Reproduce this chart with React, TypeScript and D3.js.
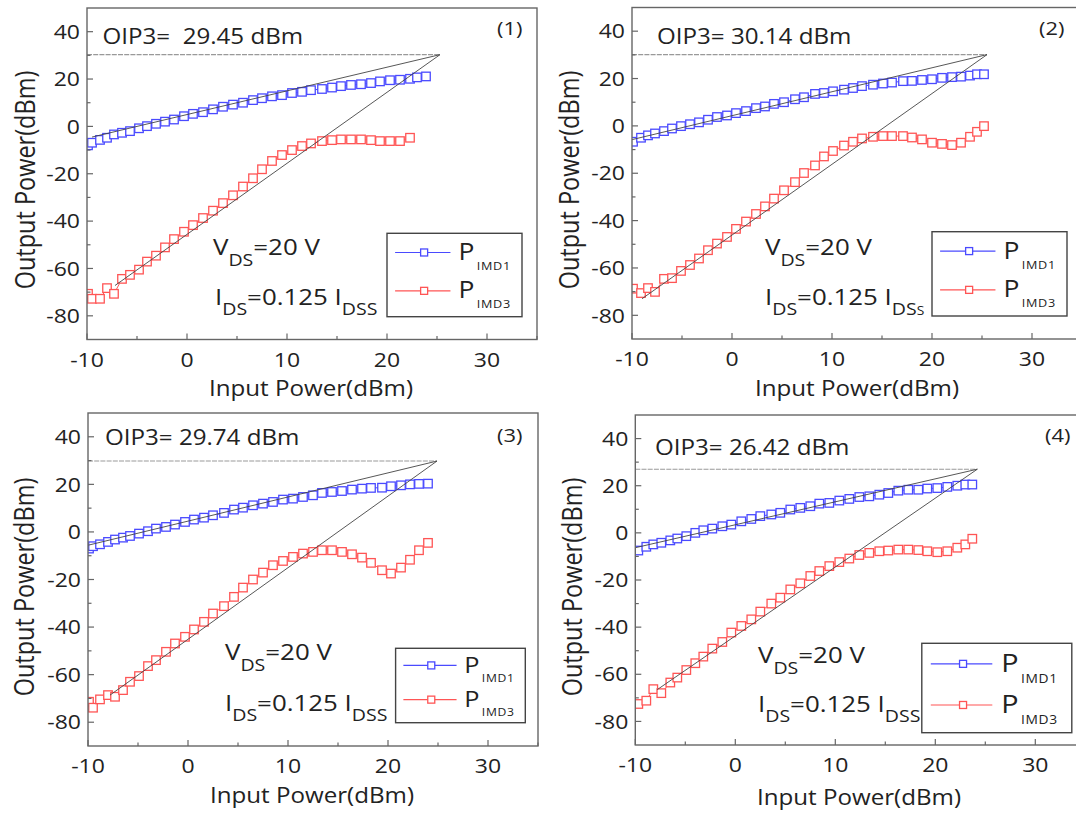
import React from 'react';
import * as d3 from 'd3';

// ---------------- DATA ----------------
const X_DOMAIN: [number, number] = [-10, 35];
const Y_DOMAIN: [number, number] = [-90, 50];
const X_MAJOR = [-10, 0, 10, 20, 30];
const X_MINOR = [-5, 5, 15, 25, 35];
const Y_MAJOR = [-80, -60, -40, -20, 0, 20, 40];
const Y_MINOR = [-70, -50, -30, -10, 10, 30];

const p1Input = [-9.9, -9.5, -8.7, -8.0, -7.3, -6.5, -5.7, -4.8, -4.0, -3.1, -2.2, -1.3, -0.3, 0.6, 1.6, 2.6, 3.6, 4.6, 5.6, 6.6, 7.5, 8.5, 9.5, 10.5, 11.5, 12.4, 13.5, 14.5, 15.4, 16.4, 17.4, 18.4, 19.3, 20.3, 21.3, 22.3, 23.0, 23.9];
const p1Imd1 = [-8.0, -6.9, -5.7, -4.8, -3.4, -2.7, -2.0, -0.8, 0.1, 1.1, 2.0, 2.9, 4.3, 5.3, 6.0, 7.2, 8.3, 9.2, 10.0, 11.1, 11.9, 12.7, 13.2, 14.1, 14.6, 15.3, 15.8, 16.4, 17.0, 17.5, 17.8, 18.3, 19.0, 19.5, 19.7, 20.1, 20.7, 21.1];
const p1Imd3 = [-70.7, -72.8, -72.8, -68.3, -70.7, -64.4, -62.7, -60.5, -57.1, -54.6, -51.1, -47.6, -44.5, -41.7, -38.7, -35.6, -32.4, -29.1, -25.4, -21.9, -18.1, -14.6, -12.1, -10.0, -8.3, -7.2, -6.2, -5.8, -5.5, -5.5, -5.5, -5.8, -6.2, -6.2, -6.2, -4.8];

const p2Input = [-9.9, -9.1, -8.4, -7.7, -6.8, -6.0, -5.1, -4.2, -3.3, -2.4, -1.5, -0.5, 0.4, 1.4, 2.4, 3.3, 4.2, 5.2, 6.3, 7.2, 8.3, 9.2, 10.1, 11.2, 12.1, 13.0, 14.1, 15.1, 16.0, 17.1, 18.0, 19.0, 20.0, 21.0, 22.0, 22.9, 23.8, 24.5, 25.2];
const p2Imd1 = [-6.7, -5.0, -4.0, -3.2, -2.2, -1.1, -0.1, 0.7, 1.5, 2.6, 3.75, 4.4, 5.4, 6.25, 7.5, 8.2, 9.3, 10.0, 11.25, 12.1, 13.5, 13.9, 14.6, 15.3, 16.0, 16.8, 17.4, 17.9, 18.3, 18.9, 19.0, 19.4, 19.7, 20.3, 20.6, 20.8, 21.25, 21.8, 21.8];
const p2Imd3 = [-68.75, -70.6, -68.5, -70.1, -64.6, -64.3, -61.25, -58.75, -56.0, -52.5, -49.7, -46.9, -43.5, -40.4, -37.2, -34.0, -30.7, -27.2, -23.75, -19.9, -16.7, -12.9, -10.6, -8.3, -6.7, -5.3, -4.6, -4.3, -4.3, -4.3, -4.9, -5.7, -7.1, -7.6, -8.1, -7.1, -4.6, -2.5, -0.1];

const p3Input = [-9.9, -9.5, -8.8, -8.0, -7.3, -6.5, -5.8, -4.9, -4.0, -3.2, -2.2, -1.3, -0.3, 0.6, 1.6, 2.5, 3.6, 4.6, 5.5, 6.5, 7.5, 8.5, 9.5, 10.5, 11.5, 12.5, 13.4, 14.4, 15.4, 16.4, 17.4, 18.3, 19.4, 20.3, 21.3, 22.2, 23.1, 24.0];
const p3Imd1 = [-7.0, -6.0, -5.2, -4.2, -3.2, -2.4, -1.7, -0.7, 0.3, 1.4, 2.1, 3.1, 4.2, 5.2, 6.0, 7.0, 8.0, 9.4, 10.2, 11.2, 11.9, 12.6, 13.6, 14.0, 14.7, 15.4, 16.4, 16.8, 17.2, 17.8, 18.2, 18.5, 18.6, 19.2, 19.6, 20.0, 20.2, 20.3];
const p3Imd3 = [-71.4, -73.9, -70.4, -68.6, -69.3, -66.5, -63.0, -60.6, -56.4, -53.9, -50.4, -46.9, -44.1, -41.0, -37.8, -34.3, -31.2, -27.3, -23.4, -20.0, -17.1, -14.0, -12.2, -10.5, -9.1, -8.4, -7.7, -7.7, -8.4, -9.4, -10.8, -13.0, -16.1, -17.5, -15.0, -11.7, -7.7, -4.6];

const p4Input = [-9.7, -8.9, -8.2, -7.4, -6.5, -5.8, -4.9, -4.0, -3.2, -2.3, -1.3, -0.4, 0.6, 1.6, 2.5, 3.6, 4.5, 5.5, 6.5, 7.5, 8.4, 9.4, 10.4, 11.4, 12.4, 13.4, 14.4, 15.3, 16.3, 17.3, 18.3, 19.2, 20.2, 21.2, 22.2, 23.0, 23.7];
const p4Imd1 = [-7.5, -5.9, -4.9, -4.2, -3.2, -2.4, -1.4, 0.0, 1.1, 1.8, 2.8, 3.5, 4.9, 5.9, 7.1, 7.8, 8.5, 9.9, 10.6, 11.3, 12.4, 12.7, 13.7, 14.4, 15.2, 15.5, 16.2, 16.9, 17.9, 18.3, 18.3, 18.8, 19.0, 19.5, 20.0, 20.5, 20.5];
const p4Imd3 = [-72.6, -71.2, -66.3, -68.0, -63.5, -61.4, -58.2, -55.3, -52.5, -49.1, -46.3, -42.3, -39.5, -36.7, -33.4, -30.0, -27.5, -24.0, -21.4, -18.3, -16.2, -14.1, -12.4, -10.9, -9.4, -8.5, -7.8, -7.5, -7.1, -7.1, -7.3, -7.8, -8.2, -7.8, -6.3, -4.9, -2.5];

const OIP3_LABELS = ['OIP3=  29.45 dBm', 'OIP3= 30.14 dBm', 'OIP3= 29.74 dBm', 'OIP3= 26.42 dBm'];
const PANEL_TAGS = ['(1)', '(2)', '(3)', '(4)'];
// intercept point [input, output] and fit line starting points
const INTERCEPTS: [number, number][] = [[25.3, 30.3], [25.5, 30.1], [24.9, 29.8], [24.2, 27.0]];
const FIT1_START: [number, number][] = [[-9.5, -4.5], [-10, -5.8], [-10, -5.6], [-10, -6.3]];
const FIT3_START: [number, number][] = [[-7.2, -67.2], [-9.0, -73.0], [-7.8, -68.6], [-7.8, -66.5]];
const IDSS_SUB = ['DSS', 'DSs', 'DSS', 'DSS'];

const INPUTS = [p1Input, p2Input, p3Input, p4Input];
const IMD1 = [p1Imd1, p2Imd1, p3Imd1, p4Imd1];
const IMD3 = [p1Imd3, p2Imd3, p3Imd3, p4Imd3];

// ---------------- LAYOUT ----------------
const SX = 1.15;
const FONT = "'Open Sans', 'Noto Sans', sans-serif";
const BLUE = '#4a4aff';
const RED = '#ff5555';
const INK = '#222';

const LAYOUT = [
  { left: 87, top: 8, bottom: 339.5, oip3: [102.5, 44], tag: [497, 35], vds: [213, 255], ids: [215, 305],
    legend: [387, 233.3, 135, 83.4], legFont: 23, yTitle: [35, 180], xTitle: [311, 396] },
  { left: 632, top: 7.5, bottom: 339, oip3: [657, 44], tag: [1039, 35], vds: [765, 255], ids: [765, 305],
    legend: [932, 231.7, 135, 84.3], legFont: 23, yTitle: [579, 180], xTitle: [857, 396] },
  { left: 88, top: 413, bottom: 746, oip3: [105, 445], tag: [497, 442], vds: [225, 660], ids: [225, 711],
    legend: [395.6, 648.3, 129.7, 74.4], legFont: 22, yTitle: [34, 587], xTitle: [312, 803] },
  { left: 635.3, top: 415, bottom: 745, oip3: [655, 455], tag: [1045, 442], vds: [758, 663], ids: [758, 712],
    legend: [921.8, 643.3, 150, 89.4], legFont: 25, yTitle: [582, 587], xTitle: [859, 805] },
];
const PLOT_W = 450;

const T: React.FC<any> = ({ x, y, size, anchor = 'start', rotate = 0, vertical = false, children, style }) => (
  <text
    transform={`translate(${x},${y}) rotate(${rotate}) scale(${vertical ? 1 : SX},${vertical ? SX : 1})`}
    fontSize={size}
    textAnchor={anchor}
    fontFamily={FONT}
    fill={INK}
    style={style}
  >
    {children}
  </text>
);

function Panel({ i }: { i: number }) {
  const L = LAYOUT[i];
  const x = d3.scaleLinear().domain(X_DOMAIN).range([L.left, L.left + PLOT_W]);
  const y = d3.scaleLinear().domain(Y_DOMAIN).range([L.bottom, L.top]);
  const line = d3.line<[number, number]>().x((p) => x(p[0])).y((p) => y(p[1]));
  const input = INPUTS[i];
  const pts1: [number, number][] = IMD1[i].map((v, k) => [input[k], v]);
  const pts3: [number, number][] = IMD3[i].map((v, k) => [input[k], v]);
  const ic = INTERCEPTS[i];
  const clipId = `clip${i}`;
  const x0 = x.range()[0];
  const x1 = x.range()[1];
  const yb = y.range()[0];
  const yt = y.range()[1];
  const sq = 8.5;
  const [lx, ly, lw, lh] = L.legend;
  const lf = L.legFont;
  const rows = [
    { c: BLUE, sub: 'IMD1', yy: ly + lh * 0.23 },
    { c: RED, sub: 'IMD3', yy: ly + lh * 0.69 },
  ];
  return (
    <g>
      <defs>
        <clipPath id={clipId}>
          <rect x={x0} y={yt} width={x1 - x0} height={yb - yt} />
        </clipPath>
      </defs>
      <g clipPath={`url(#${clipId})`}>
        <path d={line(pts1) || ''} fill="none" stroke={BLUE} strokeWidth={1} />
        <path d={line(pts3) || ''} fill="none" stroke={RED} strokeWidth={1} />
        {pts1.map((p, k) => (
          <rect key={'b' + k} x={x(p[0]) - sq / 2} y={y(p[1]) - sq / 2} width={sq} height={sq} fill="#fff" stroke={BLUE} strokeWidth={1.3} />
        ))}
        {pts3.map((p, k) => (
          <rect key={'r' + k} x={x(p[0]) - sq / 2} y={y(p[1]) - sq / 2} width={sq} height={sq} fill="#fff" stroke={RED} strokeWidth={1.3} />
        ))}
        <line x1={x0} x2={x(ic[0])} y1={y(ic[1])} y2={y(ic[1])} stroke="#999" strokeWidth={1.1} strokeDasharray="5 1.2" />
        <path d={line([FIT1_START[i], ic]) || ''} fill="none" stroke="#444" strokeWidth={0.9} />
        <path d={line([FIT3_START[i], ic]) || ''} fill="none" stroke="#444" strokeWidth={0.9} />
      </g>
      {/* frame */}
      <rect x={x0} y={yt} width={x1 - x0} height={yb - yt} fill="none" stroke="#666" strokeWidth={1.4} />
      {/* ticks */}
      {X_MAJOR.map((t) => (
        <g key={'xm' + t}>
          <line x1={x(t)} x2={x(t)} y1={yb} y2={yb - 6} stroke="#666" strokeWidth={1.2} />
          <T x={x(t)} y={yb + 27} size={20} anchor="middle">{String(t)}</T>
        </g>
      ))}
      {X_MINOR.map((t) => (
        <line key={'xn' + t} x1={x(t)} x2={x(t)} y1={yb} y2={yb - 3.5} stroke="#666" strokeWidth={1.2} />
      ))}
      {Y_MAJOR.map((t) => (
        <g key={'ym' + t}>
          <line x1={x0} x2={x0 + 6} y1={y(t)} y2={y(t)} stroke="#666" strokeWidth={1.2} />
          <T x={x0 - 7} y={y(t) + 7.2} size={20} anchor="end">{String(t)}</T>
        </g>
      ))}
      {Y_MINOR.map((t) => (
        <line key={'yn' + t} x1={x0} x2={x0 + 3.5} y1={y(t)} y2={y(t)} stroke="#666" strokeWidth={1.2} />
      ))}
      {/* titles */}
      <T x={L.xTitle[0]} y={L.xTitle[1]} size={21} anchor="middle">Input Power(dBm)</T>
      <T x={L.yTitle[0]} y={L.yTitle[1]} size={23.5} anchor="middle" rotate={-90} vertical>Output Power(dBm)</T>
      {/* annotations */}
      <T x={L.oip3[0]} y={L.oip3[1]} size={21} style={{ whiteSpace: 'pre' }}>{OIP3_LABELS[i]}</T>
      <T x={L.tag[0]} y={L.tag[1]} size={19}>{PANEL_TAGS[i]}</T>
      <T x={L.vds[0]} y={L.vds[1]} size={22.5}>
        V<tspan fontSize={17} dy={11}>DS</tspan><tspan dy={-11}>=20 V</tspan>
      </T>
      <T x={L.ids[0]} y={L.ids[1]} size={22.5}>
        I<tspan fontSize={17} dy={10}>DS</tspan><tspan dy={-10}>=0.125 I</tspan>
        {IDSS_SUB[i] === 'DSs' ? (
          <>
            <tspan fontSize={17} dy={10}>DS</tspan><tspan fontSize={12}>S</tspan>
          </>
        ) : (
          <tspan fontSize={17} dy={10}>DSS</tspan>
        )}
      </T>
      {/* legend */}
      <rect x={lx} y={ly} width={lw} height={lh} fill="#fff" stroke="#444" strokeWidth={1.4} />
      {rows.map((r) => (
        <g key={r.sub}>
          <line x1={lx + lw * 0.06} x2={lx + lw * 0.47} y1={r.yy} y2={r.yy} stroke={r.c} strokeWidth={1.2} />
          <rect x={lx + lw * 0.275 - 3.5} y={r.yy - 3.5} width={7} height={7} fill="#fff" stroke={r.c} strokeWidth={1.3} />
          <T x={lx + lw * 0.53} y={r.yy + lf * 0.33} size={lf}>
            P<tspan fontSize={lf * 0.48} dx={2} dy={lf * 0.43} letterSpacing={0.6}>{r.sub}</tspan>
          </T>
        </g>
      ))}
    </g>
  );
}

export default function App() {
  return (
    <svg
      width={1076}
      height={817}
      viewBox="0 0 1076 817"
      style={{ position: 'absolute', left: 0, top: 0, background: '#fff' }}
    >
      <rect x={0} y={0} width={1076} height={817} fill="#fff" />
      {[0, 1, 2, 3].map((i) => (
        <Panel key={i} i={i} />
      ))}
    </svg>
  );
}
